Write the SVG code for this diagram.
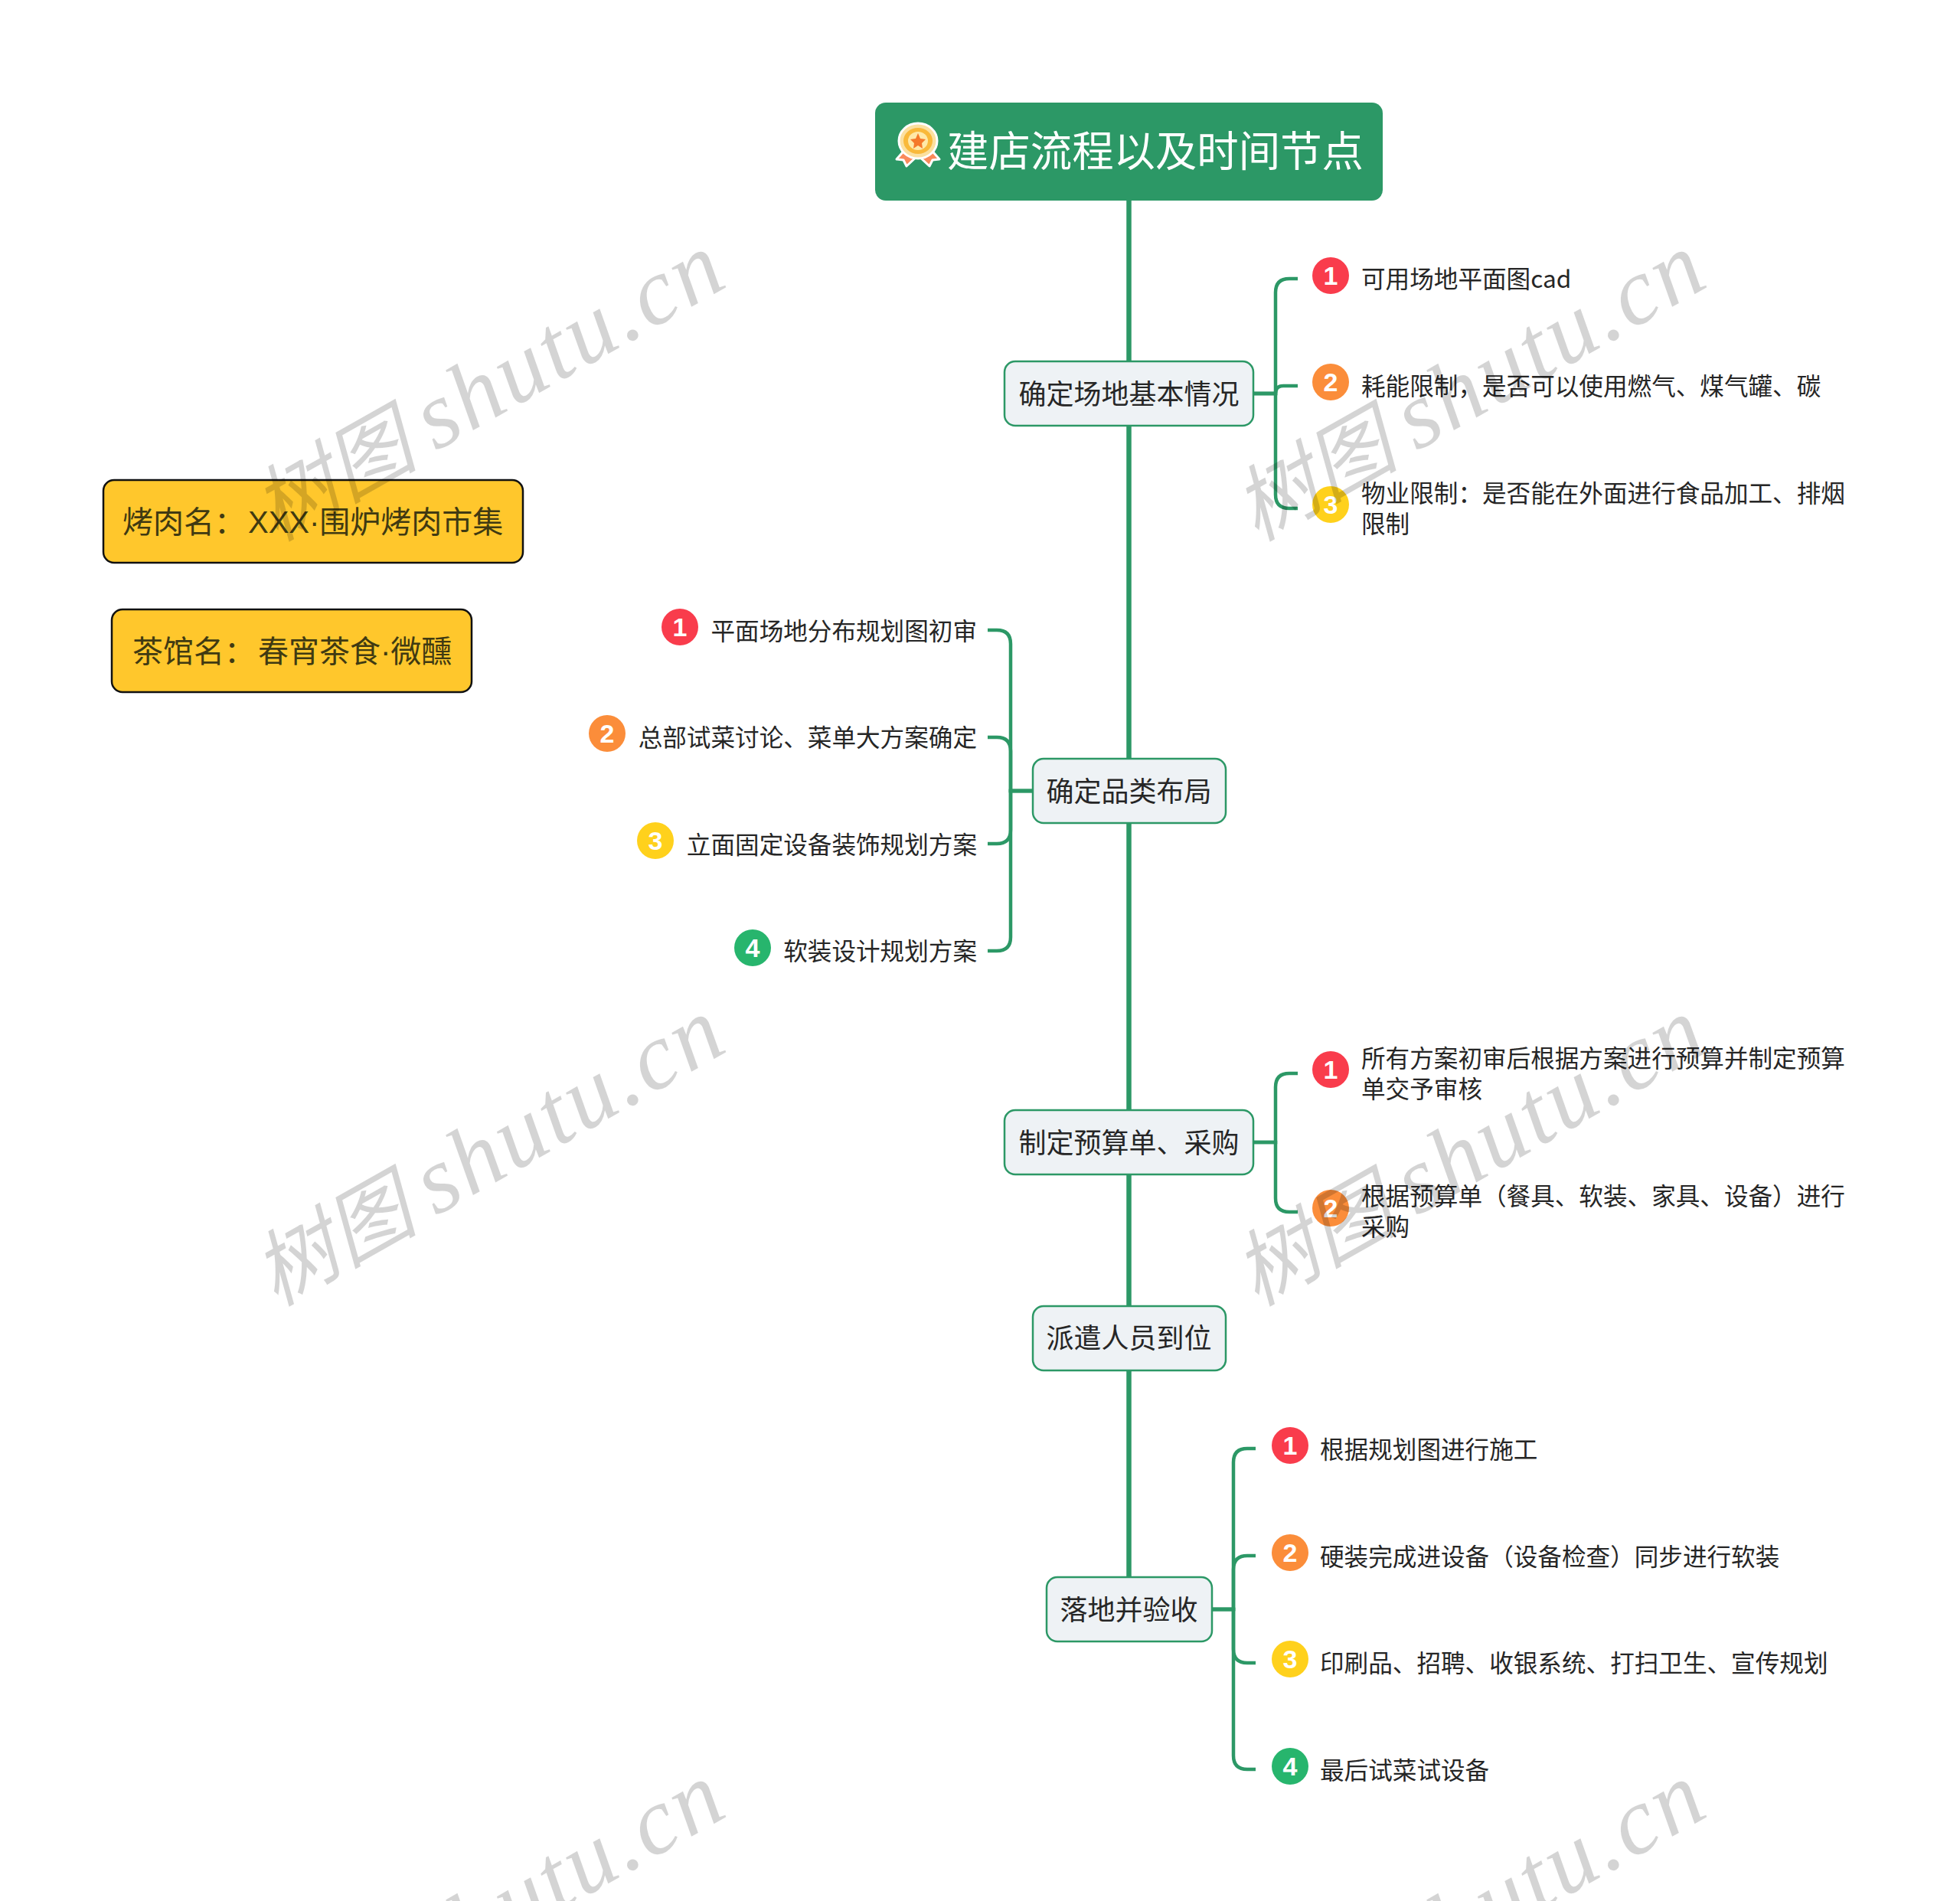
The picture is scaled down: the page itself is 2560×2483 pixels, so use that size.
<svg xmlns="http://www.w3.org/2000/svg" width="2560" height="2483" viewBox="0 0 2560 2483">
<defs>
<style>
text{font-family:"Noto Sans CJK SC","Noto Sans",sans-serif}
.c{fill:none;stroke:#2c9866;stroke-width:4.5;stroke-linecap:butt}
.sp{fill:none;stroke:#2c9866;stroke-width:6.5}
.n rect{fill:#eef2f5;stroke:#2c9866;stroke-width:2.5}
.n text{font-size:36px;fill:#262626;text-anchor:middle}
.y rect{fill:#ffc72c;stroke:#111;stroke-width:2.5}
.y text{font-size:40px;fill:#403a12}
.lat{font-family:"Liberation Sans",sans-serif}
.l{font-size:31.6px;fill:#262626}
.e{text-anchor:end}
.h{fill:#fff;opacity:.55}
.b{font-family:"Liberation Sans",sans-serif;font-size:34px;font-weight:700;fill:#fff;text-anchor:middle}
.r{fill:#f93c4c}.o{fill:#fb8d3a}.g{fill:#ffd11c}.s{fill:#27b56d}
.w{font-family:"Noto Sans CJK SC",serif;font-style:italic;font-size:108px;fill:#000;opacity:.165}
.w tspan{font-family:"Liberation Serif",serif;font-size:124px;letter-spacing:3.5px}
</style>
<g id="b1"><circle r="27" class="h"/><circle r="24" class="r"/><text y="12" class="b">1</text></g>
<g id="b2"><circle r="27" class="h"/><circle r="24" class="o"/><text y="12" class="b">2</text></g>
<g id="b3"><circle r="27" class="h"/><circle r="24" class="g"/><text y="12" class="b">3</text></g>
<g id="b4"><circle r="27" class="h"/><circle r="24" class="s"/><text y="12" class="b">4</text></g>
</defs>
<rect width="2560" height="2483" fill="#fff"/>
<g id="connectors">
<path class="sp" d="M1474.5 262V2060"/>
<path class="c" d="M1637 514H1666V382Q1666 364 1684 364H1695"/>
<path class="c" d="M1637 514H1666V514Q1666 504 1676 504H1695"/>
<path class="c" d="M1637 514H1666V646Q1666 664 1684 664H1695"/>
<path class="c" d="M1349 1033H1320V841Q1320 823 1302 823H1290"/>
<path class="c" d="M1349 1033H1320V981Q1320 963 1302 963H1290"/>
<path class="c" d="M1349 1033H1320V1084Q1320 1102 1302 1102H1290"/>
<path class="c" d="M1349 1033H1320V1224Q1320 1242 1302 1242H1290"/>
<path class="c" d="M1637 1492H1666V1420Q1666 1402 1684 1402H1695"/>
<path class="c" d="M1637 1492H1666V1565Q1666 1583 1684 1583H1695"/>
<path class="c" d="M1583 2102H1611V1910Q1611 1892 1629 1892H1640"/>
<path class="c" d="M1583 2102H1611V2050Q1611 2032 1629 2032H1640"/>
<path class="c" d="M1583 2102H1611V2154Q1611 2172 1629 2172H1640"/>
<path class="c" d="M1583 2102H1611V2293Q1611 2311 1629 2311H1640"/>
</g>
<g id="root">
<rect x="1143" y="134" width="663" height="128" rx="14" fill="#2c9866"/>
<g id="medal">
<path d="M1185 192L1171 208L1180 209L1184 217L1199 203L1214 217L1218 209L1227 208L1213 192Z" fill="#fa8a5a" stroke="#fff" stroke-width="3" stroke-linejoin="round"/>
<ellipse cx="1199" cy="184" rx="25" ry="23" fill="#fbe0a0" stroke="#fff" stroke-width="3"/>
<ellipse cx="1199" cy="184" rx="19" ry="17" fill="#f9b93a"/>
<ellipse cx="1199" cy="184" rx="13" ry="12" fill="#ffe9a8"/>
<path d="M1199 174L1202 181L1209 182L1204 187L1205 194L1199 190L1193 194L1194 187L1189 182L1196 181Z" fill="#f5792a"/>
</g>
<text x="1237" y="217" font-size="54.4" fill="#fff">建店流程以及时间节点</text>
</g>
<g id="note-bbq" class="y"><rect x="135" y="627" width="548" height="108" rx="14"/><text x="160" y="696">烤肉名：<tspan class="lat" dx="4">XXX·</tspan>围炉烤肉市集</text></g>
<g id="note-tea" class="y"><rect x="146" y="796" width="470" height="108" rx="14"/><text x="173" y="865">茶馆名：<tspan dx="4">春宵茶食</tspan><tspan class="lat">·</tspan>微醺</text></g>
<g id="topic1" class="n"><rect x="1312" y="472" width="325" height="84" rx="14"/><text x="1474.5" y="528">确定场地基本情况</text></g>
<g id="t1-1"><use href="#b1" x="1738" y="360"/><text class="l" x="1778" y="376">可用场地平面图cad</text></g>
<g id="t1-2"><use href="#b2" x="1738" y="499"/><text class="l" x="1778" y="516">耗能限制，是否可以使用燃气、煤气罐、碳</text></g>
<g id="t1-3"><use href="#b3" x="1738" y="659"/><text class="l" x="1778" y="656">物业限制：是否能在外面进行食品加工、排烟</text><text class="l" x="1778" y="696">限制</text></g>
<g id="topic2" class="n"><rect x="1349" y="991" width="252" height="84" rx="14"/><text x="1474.5" y="1047">确定品类布局</text></g>
<g id="t2-1"><use href="#b1" x="888" y="819"/><text class="l e" x="1276" y="836">平面场地分布规划图初审</text></g>
<g id="t2-2"><use href="#b2" x="793" y="958"/><text class="l e" x="1276" y="975">总部试菜讨论、菜单大方案确定</text></g>
<g id="t2-3"><use href="#b3" x="856" y="1098"/><text class="l e" x="1276" y="1115">立面固定设备装饰规划方案</text></g>
<g id="t2-4"><use href="#b4" x="983" y="1238"/><text class="l e" x="1276" y="1254">软装设计规划方案</text></g>
<g id="topic3" class="n"><rect x="1312" y="1450" width="325" height="84" rx="14"/><text x="1474.5" y="1506">制定预算单、采购</text></g>
<g id="t3-1"><use href="#b1" x="1738" y="1397"/><text class="l" x="1778" y="1394">所有方案初审后根据方案进行预算并制定预算</text><text class="l" x="1778" y="1434">单交予审核</text></g>
<g id="t3-2"><use href="#b2" x="1738" y="1578"/><text class="l" x="1778" y="1574">根据预算单（餐具、软装、家具、设备）进行</text><text class="l" x="1778" y="1614">采购</text></g>
<g id="topic4" class="n"><rect x="1349" y="1706" width="252" height="84" rx="14"/><text x="1474.5" y="1761">派遣人员到位</text></g>
<g id="topic5" class="n"><rect x="1367" y="2060" width="216" height="84" rx="14"/><text x="1474.5" y="2116">落地并验收</text></g>
<g id="t5-1"><use href="#b1" x="1685" y="1888"/><text class="l" x="1724" y="1905">根据规划图进行施工</text></g>
<g id="t5-2"><use href="#b2" x="1685" y="2028"/><text class="l" x="1724" y="2045">硬装完成进设备（设备检查）同步进行软装</text></g>
<g id="t5-3"><use href="#b3" x="1685" y="2167"/><text class="l" x="1724" y="2184">印刷品、招聘、收银系统、打扫卫生、宣传规划</text></g>
<g id="t5-4"><use href="#b4" x="1685" y="2307"/><text class="l" x="1724" y="2324">最后试菜试设备</text></g>
<g id="watermarks">
<text class="w" transform="translate(360 708) rotate(-29.5)">树图 <tspan>shutu.cn</tspan></text>
<text class="w" transform="translate(1641 708) rotate(-29.5)">树图 <tspan>shutu.cn</tspan></text>
<text class="w" transform="translate(360 1707) rotate(-29.5)">树图 <tspan>shutu.cn</tspan></text>
<text class="w" transform="translate(1641 1707) rotate(-29.5)">树图 <tspan>shutu.cn</tspan></text>
<text class="w" transform="translate(360 2706) rotate(-29.5)">树图 <tspan>shutu.cn</tspan></text>
<text class="w" transform="translate(1641 2706) rotate(-29.5)">树图 <tspan>shutu.cn</tspan></text>
</g>
</svg>
